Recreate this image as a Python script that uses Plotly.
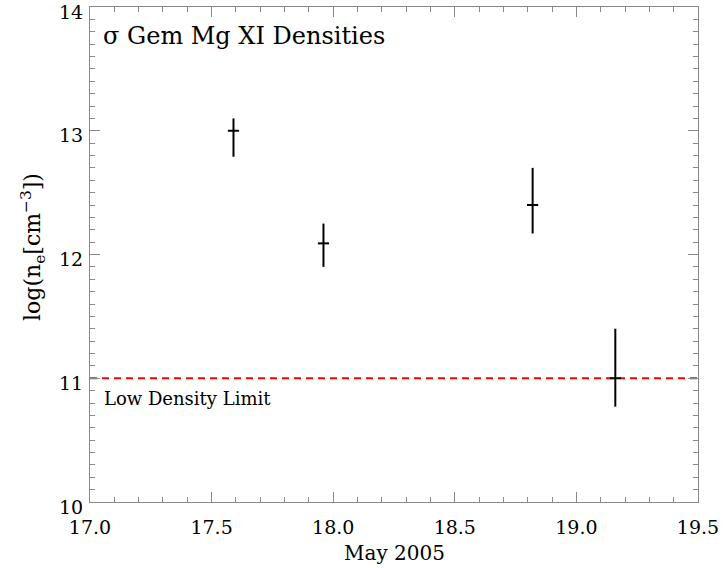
import plotly.graph_objects as go

days = [17.59, 17.96, 18.82, 19.16]
log_ne = [13.0, 12.09, 12.40, 11.0]
err_plus = [0.10, 0.16, 0.30, 0.40]
err_minus = [0.21, 0.19, 0.23, 0.23]
low_density_limit = 11.0
x_range = [17.0, 19.5]
y_range = [10.0, 14.0]
x_ticks = [17.0, 17.5, 18.0, 18.5, 19.0, 19.5]
y_ticks = [10, 11, 12, 13, 14]

FONT = "DejaVu Serif"

fig = go.Figure()
fig.add_trace(go.Scatter(
    x=x_range, y=[low_density_limit, low_density_limit], mode="lines",
    line=dict(color="#ff0000", width=2, dash="7px,5px"), showlegend=False, hoverinfo="skip"))
fig.add_trace(go.Scatter(
    x=days, y=log_ne, mode="markers",
    marker=dict(symbol="line-ew", size=8, line=dict(color="black", width=2), color="black"),
    error_y=dict(type="data", symmetric=False, array=err_plus, arrayminus=err_minus,
                 color="black", thickness=2, width=0),
    showlegend=False))

axis_common = dict(showgrid=False, zeroline=False, showline=True, linecolor="#888888", linewidth=1,
                   mirror="allticks", ticks="inside", ticklen=10, tickcolor="#888888", tickwidth=1,
                   ticklabeloverflow="allow", automargin=False,
                   tickfont=dict(family=FONT, size=19, color="black"))
fig.update_xaxes(range=x_range, tickmode="array", tickvals=x_ticks,
                 ticktext=[f"{v:.1f}" for v in x_ticks], ticklabelstandoff=8,
                 minor=dict(ticks="inside", ticklen=5, dtick=0.1, tick0=17.0, tickcolor="#888888"),
                 **axis_common)
fig.update_yaxes(range=y_range, tickmode="array", tickvals=y_ticks,
                 ticktext=[str(v) for v in y_ticks], ticklabelstandoff=2, ticklabelshift=5,
                 minor=dict(ticks="inside", ticklen=5, dtick=0.1, tick0=10, tickcolor="#888888"),
                 **axis_common)

fig.add_annotation(text="σ Gem Mg XI Densities", xref="paper", yref="paper", x=0.018, y=0.941,
                   xanchor="left", yanchor="middle", showarrow=False,
                   font=dict(family=FONT, size=24, color="black"))
fig.add_annotation(text="Low Density Limit", xref="paper", yref="y", x=0.02, y=10.84,
                   xanchor="left", yanchor="middle", showarrow=False,
                   font=dict(family=FONT, size=18, color="black"))
fig.add_annotation(text="May 2005", xref="paper", yref="paper", x=0.5, y=-0.103,
                   xanchor="center", yanchor="middle", showarrow=False,
                   font=dict(family=FONT, size=20, color="black"))
fig.add_annotation(text="log(n<sub>e</sub>[cm<sup>−3</sup>])", xref="paper", yref="paper", x=-0.094, y=0.515,
                   xanchor="center", yanchor="middle", showarrow=False, textangle=-90,
                   font=dict(family=FONT, size=22, color="black"))

fig.update_layout(width=726, height=568, margin=dict(l=90, r=28, t=7, b=66),
                  plot_bgcolor="white", paper_bgcolor="white")
fig.write_html("out.html")
